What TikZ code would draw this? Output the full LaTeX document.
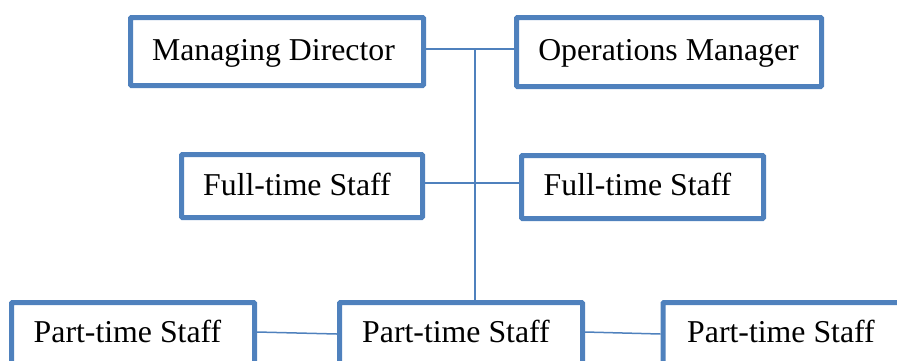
\documentclass[tikz,border=0pt]{standalone}
\usepackage{fontspec}
\setmainfont{Liberation Serif}
\definecolor{ob}{RGB}{79,129,189}
\begin{document}
\begin{tikzpicture}[x=1pt,y=-1pt,
  box/.style={draw=ob, line width=5pt, rounded corners=1pt, minimum height=68pt, inner sep=0pt},
  txt/.style={font=\fontsize{31.8}{38}\selectfont, inner sep=0pt, anchor=base},
  conn/.style={draw=ob, line width=1.5pt}]
\clip (0,0) rectangle (897,360);
% boxes
\node[box, minimum width=293pt, minimum height=68pt] (md) at (277,51.5) {};
\node[box, minimum width=305pt, minimum height=69pt] (om) at (669,52) {};
\node[box, minimum width=241pt, minimum height=63pt] (fl) at (302,186) {};
\node[box, minimum width=242pt, minimum height=63pt] (fr) at (642.5,187) {};
\node[box, minimum width=243pt] (pl) at (133,336.5) {};
\node[box, minimum width=243pt] (pm) at (461,336.5) {};
\node[box, minimum width=248pt] (pr) at (787,336.5) {};
% texts
\node[txt] (mdt) at (273.5,60) {Managing Director};
\node[txt] (omt) at (668.5,60) {Operations Manager};
\node[txt] (flt) at (297,195) {Full-time Staff};
\node[txt] (frt) at (637.5,195) {Full-time Staff};
\node[txt] (plt) at (127.5,342) {Part-time Staff};
\node[txt] (pmt) at (456,342) {Part-time Staff};
\node[txt] (prt) at (781,342) {Part-time Staff};
% connectors
\draw[conn] ([yshift=2.5pt]md.east) -- ([yshift=3pt]om.west);
\coordinate (j) at (475,50);
\draw[conn] (j) -- (j |- pm.north);
\draw[conn] ([yshift=3pt]fl.east) -- ([yshift=4pt]fr.west);
\draw[conn] ([yshift=4.5pt]pl.east) -- ([yshift=2.5pt]pm.west);
\draw[conn] ([yshift=4.5pt]pm.east) -- ([yshift=2.5pt]pr.west);
\end{tikzpicture}
\end{document}
